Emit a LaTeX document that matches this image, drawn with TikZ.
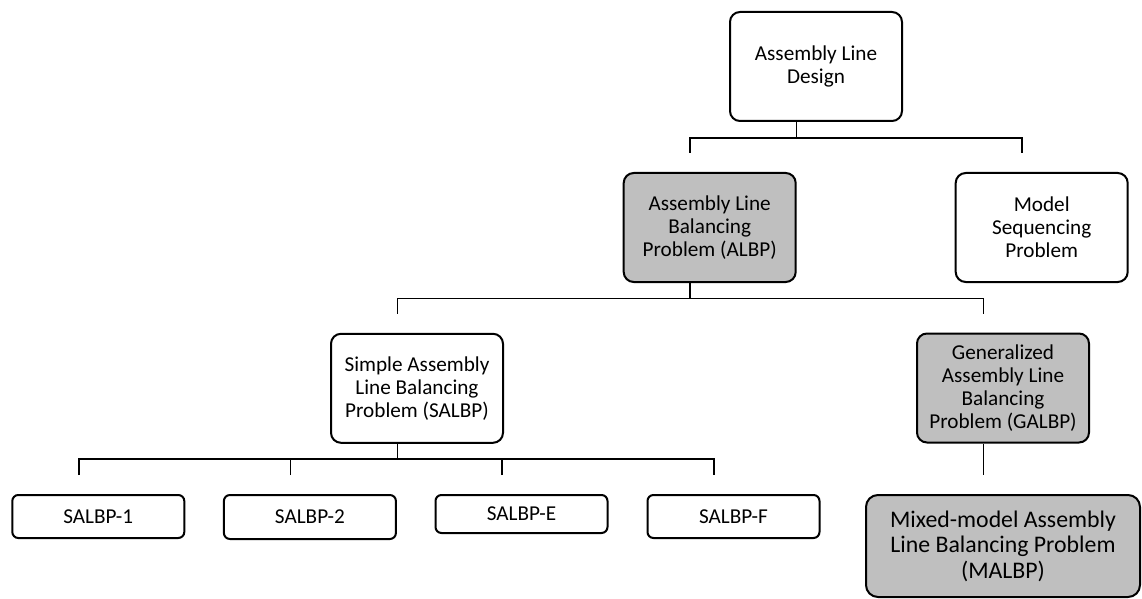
\documentclass[tikz,border=0pt]{standalone}
\usepackage{fontspec}
\setmainfont{Carlito}
\usepackage{tikz}
\usetikzlibrary{positioning}
\tikzset{
  box/.style={rectangle, rounded corners=5pt, draw=black, line width=1pt, fill=white,
    minimum width=86pt, minimum height=54.5pt, inner sep=0pt, align=center,
    font=\fontsize{10.6}{11.5}\selectfont},
  leaf/.style={box, rounded corners=3pt, minimum height=21.5pt},
  grayed/.style={fill=black!25},
  link/.style={line width=0.9pt, draw=black}
}
\newcommand{\linkoff}{-9.75pt}
\newcommand{\droplen}{9.5pt}

\begin{document}
\begin{tikzpicture}[x=0.5pt, y=-0.5pt]
\useasboundingbox (0,0) rectangle (1142,599);
\node[box] (design) at (816,66.5) {Assembly Line\\Design};
\node[box, grayed] (albp) at (709.7,227.5) {Assembly Line\\Balancing\\Problem (ALBP)};
\node[box, right=79pt of albp] (msp) {Model\\Sequencing\\Problem};
\node[box] (salbp) at (417,388.3) {Simple Assembly\\Line Balancing\\Problem (SALBP)};
\node[box, grayed] (galbp) at (1003,388) {Generalized\\Assembly Line\\Balancing\\Problem (GALBP)};
\node[leaf] (s1) at (98.3,516.5) {SALBP-1};
\node[leaf, minimum height=22pt, right=18.8pt of s1.north east, anchor=north west] (s2) {SALBP-2};
\node[leaf, minimum height=19pt, right=18.8pt of s2.north east, anchor=north west] (se) {SALBP-E};
\node[leaf, right=19pt of se.north east, anchor=north west] (sf) {SALBP-F};
\node[box, grayed, rounded corners=6pt, minimum width=137pt, minimum height=51pt,
  font=\fontsize{11.9}{12.8}\selectfont] (malbp) at (1003,546) {Mixed-model Assembly\\Line Balancing Problem\\(MALBP)};
% connectors
\draw[link] ([xshift=\linkoff]design.south) -- ++(0,16) coordinate (d1);
\draw[link] ([xshift=\linkoff,yshift=\droplen]albp.north) |- (d1) -| ([xshift=\linkoff,yshift=\droplen]msp.north);
\draw[link] ([xshift=\linkoff]albp.south) -- ++(0,15.5) coordinate (a1);
\draw[link] ([xshift=\linkoff,yshift=\droplen]salbp.north) |- (a1) -| ([xshift=\linkoff,yshift=\droplen]galbp.north);
\draw[link] ([xshift=\linkoff]salbp.south) -- ++(0,15.5) coordinate (b1);
\draw[link] ([xshift=\linkoff,yshift=\droplen]s1.north) |- (b1) -| ([xshift=\linkoff,yshift=\droplen]sf.north);
\draw[link] ([xshift=\linkoff,yshift=\droplen]s2.north) -- ([xshift=\linkoff]s2.north |- b1);
\draw[link] ([xshift=\linkoff,yshift=\droplen]se.north) -- ([xshift=\linkoff]se.north |- b1);
\draw[link] ([xshift=\linkoff]galbp.south) -- ([xshift=\linkoff,yshift=\droplen]malbp.north);
\end{tikzpicture}
\end{document}
